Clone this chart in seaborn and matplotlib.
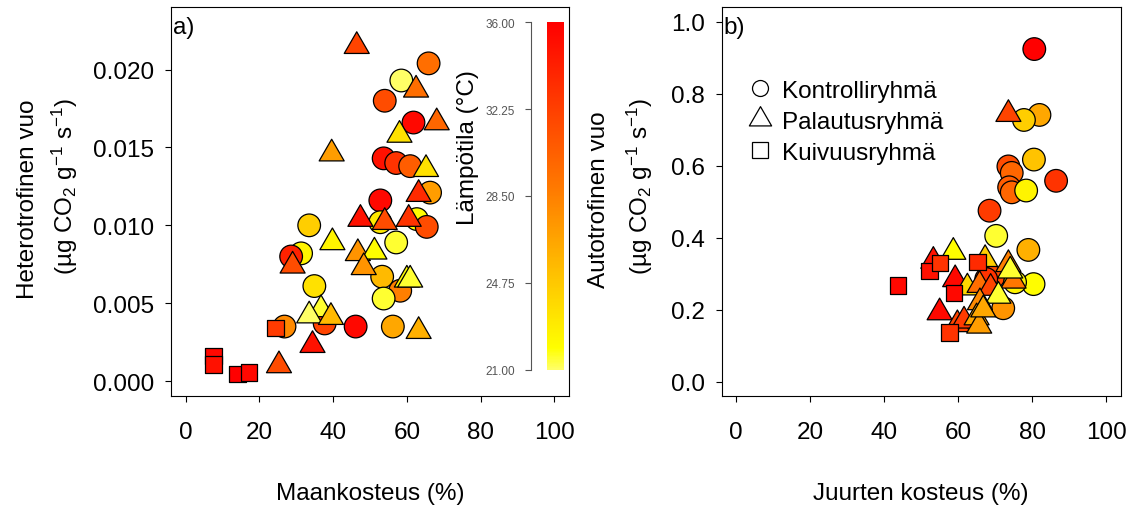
import matplotlib
matplotlib.use("Agg")
import matplotlib.pyplot as plt
import numpy as np
import pandas as pd
import seaborn as sns
from matplotlib.colors import LinearSegmentedColormap, Normalize
from matplotlib.cm import ScalarMappable
from matplotlib.lines import Line2D
from matplotlib.path import Path
from matplotlib.ticker import FormatStrFormatter, FixedLocator

# ---------------- data ----------------
GROUPS = ["Kontrolliryhmä", "Palautusryhmä", "Kuivuusryhmä"]

# panel a: soil moisture (%) vs heterotrophic flux, colour = temperature (°C)
a_ctrl_x = [65.9, 58.5, 54.0, 61.8, 53.7, 57.1, 60.9, 66.3, 52.8, 52.8, 62.7, 65.4,
            33.5, 57.1, 31.3, 28.6, 53.3, 58.2, 34.9, 53.7, 37.7, 26.8, 46.1, 56.2]
a_ctrl_y = [0.0204, 0.0193, 0.0180, 0.0166, 0.0143, 0.0140, 0.0138, 0.0121, 0.0116, 0.0102,
            0.0104, 0.0099, 0.0100, 0.0089, 0.0082, 0.0080, 0.0067, 0.0058, 0.0061, 0.0053,
            0.0037, 0.0035, 0.0035, 0.0035]
a_ctrl_t = [29.5, 21.0, 31.5, 35.5, 35.0, 33.0, 30.5, 27.0, 35.5, 23.0, 22.0, 31.5,
            24.5, 21.5, 22.5, 34.0, 25.5, 28.5, 23.5, 21.5, 32.0, 28.0, 35.5, 26.5]

a_pal_x = [46.4, 62.5, 68.1, 58.0, 39.6, 65.2, 63.2, 47.4, 54.0, 60.5, 39.8, 46.7,
           51.2, 29.0, 48.3, 60.0, 60.9, 36.7, 33.5, 39.4, 63.2, 34.4, 25.3]
a_pal_y = [0.0215, 0.0187, 0.0166, 0.0158, 0.0146, 0.0136, 0.0120, 0.0104, 0.0102, 0.0104,
           0.0089, 0.0082, 0.0083, 0.0074, 0.0073, 0.0065, 0.0065, 0.0046, 0.0042, 0.0041,
           0.0032, 0.0023, 0.0010]
a_pal_t = [32.0, 29.5, 30.0, 23.5, 27.0, 23.5, 33.5, 35.0, 31.5, 33.0, 22.5, 27.5,
           22.0, 31.5, 27.5, 22.0, 21.5, 21.5, 21.0, 25.5, 26.0, 35.0, 31.5]

a_kui_x = [7.6, 7.6, 14.0, 17.2, 24.3]
a_kui_y = [0.0016, 0.00105, 0.00045, 0.00056, 0.0034]
a_kui_t = [35.5, 35.0, 36.0, 35.5, 32.5]

# panel b: root moisture (%) vs autotrophic flux
b_ctrl_x = [80.6, 82.0, 77.8, 80.5, 73.6, 74.5, 86.5, 73.8, 74.5, 78.4, 68.5,
            70.3, 79.0, 80.4, 72.2, 69.5, 67.6, 75.4]
b_ctrl_y = [0.924, 0.741, 0.727, 0.617, 0.598, 0.580, 0.558, 0.540, 0.526, 0.531, 0.475,
            0.405, 0.366, 0.271, 0.204, 0.290, 0.285, 0.276]
b_ctrl_t = [36.0, 26.5, 24.5, 25.0, 31.5, 30.0, 33.0, 30.5, 30.0, 22.5, 32.5,
            21.5, 26.0, 22.0, 27.5, 31.5, 33.0, 22.5]

b_pal_x = [73.6, 58.7, 53.3, 67.3, 73.6, 75.0, 74.1, 59.2, 62.5, 65.8, 68.8, 70.9,
           65.9, 55.0, 59.8, 61.6, 65.0, 65.7, 66.8]
b_pal_y = [0.743, 0.360, 0.335, 0.340, 0.326, 0.280, 0.308, 0.284, 0.261, 0.268, 0.260,
           0.238, 0.220, 0.192, 0.159, 0.169, 0.178, 0.155, 0.200]
b_pal_t = [32.0, 22.0, 35.0, 24.5, 28.5, 29.0, 21.5, 35.5, 24.0, 29.5, 32.0, 21.5,
           28.0, 35.5, 32.0, 32.5, 26.5, 27.0, 26.5]

b_kui_x = [43.7, 52.3, 55.1, 58.9, 65.2, 57.6]
b_kui_y = [0.267, 0.308, 0.329, 0.246, 0.332, 0.137]
b_kui_t = [35.5, 35.0, 33.0, 35.5, 33.5, 33.0]

TEMP_TICKS = [21.00, 24.75, 28.50, 32.25, 36.00]
X_TICKS = [0, 20, 40, 60, 80, 100]
A_Y_TICKS = [0.000, 0.005, 0.010, 0.015, 0.020]
B_Y_TICKS = [0.0, 0.2, 0.4, 0.6, 0.8, 1.0]


def frame(xs, ys, ts):
    parts = []
    for g, x, y, t in zip(GROUPS, xs, ys, ts):
        parts.append(pd.DataFrame({"kosteus": x, "vuo": y, "lampotila": t, "ryhma": g}))
    return pd.concat(parts, ignore_index=True)


df_a = frame([a_ctrl_x, a_pal_x, a_kui_x], [a_ctrl_y, a_pal_y, a_kui_y],
             [a_ctrl_t, a_pal_t, a_kui_t])
df_b = frame([b_ctrl_x, b_pal_x, b_kui_x], [b_ctrl_y, b_pal_y, b_kui_y],
             [b_ctrl_t, b_pal_t, b_kui_t])

# ---------------- style ----------------
sns.set_theme(style="white")
plt.rcParams["font.family"] = ["Liberation Sans", "DejaVu Sans"]
plt.rcParams["mathtext.fontset"] = "custom"
plt.rcParams["mathtext.rm"] = "Liberation Sans"
plt.rcParams["mathtext.it"] = "Liberation Sans:italic"
plt.rcParams["mathtext.default"] = "regular"
for key in ("text.color", "axes.labelcolor", "xtick.color", "ytick.color", "axes.edgecolor"):
    plt.rcParams[key] = "black"
plt.rcParams["axes.linewidth"] = 0.8

FS = 17.5
W, H = 1137, 506

# closed equilateral triangle centred on its centroid
TRI = Path([(0.0, 1.0), (-0.866, -0.5), (0.866, -0.5), (0.0, 1.0)], closed=True)
marker_map = {"Kontrolliryhmä": "o", "Palautusryhmä": TRI, "Kuivuusryhmä": "s"}
size_map = {"Kontrolliryhmä": 16.3 ** 2, "Palautusryhmä": 20.8 ** 2, "Kuivuusryhmä": 11.9 ** 2}

cmap = LinearSegmentedColormap.from_list(
    "lampo", [(0.0, "#FFFF66"), (0.06, "#FFFF00"), (0.5, "#FF8000"), (1.0, "#FF0000")])
norm = Normalize(vmin=21, vmax=36)

fig = plt.figure(figsize=(W / 100, H / 100), dpi=100)
fig.patch.set_facecolor("white")


def px_axes(left, top, right, bottom):
    return fig.add_axes([left / W, 1 - bottom / H, (right - left) / W, (bottom - top) / H])


ax_a = px_axes(171, 8.3, 569, 396.7)
ax_b = px_axes(721.5, 8.3, 1120.8, 396.7)

for ax, df in ((ax_a, df_a), (ax_b, df_b)):
    sns.scatterplot(data=df, x="kosteus", y="vuo", hue="lampotila", hue_norm=norm,
                    palette=cmap, style="ryhma", markers=marker_map, size="ryhma",
                    sizes=size_map, edgecolor="black", linewidth=0.9, legend=False,
                    ax=ax, zorder=3)
    ax.set_xlim(-4, 104)
    ax.xaxis.set_major_locator(FixedLocator(X_TICKS))
    ax.tick_params(axis="both", direction="out", length=4.5, width=0.8, color="black",
                   labelsize=FS, labelcolor="black", bottom=True, left=True)
    ax.tick_params(axis="x", pad=13.5)
    ax.tick_params(axis="y", pad=7.7)
    for s in ax.spines.values():
        s.set_visible(True)
        s.set_color("black")
        s.set_linewidth(0.8)
    ax.set_ylabel("")

ax_a.set_ylim(-0.00094, 0.0240)
ax_a.yaxis.set_major_locator(FixedLocator(A_Y_TICKS))
ax_a.yaxis.set_major_formatter(FormatStrFormatter("%.3f"))
ax_b.set_ylim(-0.039, 1.04)
ax_b.yaxis.set_major_locator(FixedLocator(B_Y_TICKS))
ax_b.yaxis.set_major_formatter(FormatStrFormatter("%.1f"))

ax_a.set_xlabel("Maankosteus (%)", fontsize=FS, labelpad=28.5, color="black")
ax_b.set_xlabel("Juurten kosteus (%)", fontsize=FS, labelpad=28.5, color="black")

# panel tags
ax_a.text(0.004, 0.934, "a)", transform=ax_a.transAxes, fontsize=FS, ha="left", va="baseline")
ax_b.text(0.006, 0.934, "b)", transform=ax_b.transAxes, fontsize=FS, ha="left", va="baseline")

# two-line y labels
unit = "(µg CO$_2$ g$^{-1}$ s$^{-1}$)"


def ylab(x_px, y_px, s):
    fig.text(x_px / W, 1 - y_px / H, s, fontsize=FS, rotation=90, rotation_mode="anchor",
             ha="center", va="baseline", color="black")


ylab(34, 199, "Heterotrofinen vuo")
ylab(73, 186, unit)
ylab(605, 200, "Autotrofinen vuo")
ylab(648, 186, unit)

# colour key placed inside panel a
cax = px_axes(546.7, 23.3, 564, 370.7)
cb = fig.colorbar(ScalarMappable(norm=norm, cmap=cmap), cax=cax, ticks=[])
cb.outline.set_visible(False)

tax = px_axes(531, 23.3, 531.5, 370.7)
tax.set_ylim(21, 36)
tax.patch.set_visible(False)
for side in ("top", "right", "bottom"):
    tax.spines[side].set_visible(False)
tax.spines["left"].set_color("#555555")
tax.spines["left"].set_linewidth(0.8)
tax.set_xticks([])
tax.yaxis.set_major_locator(FixedLocator(TEMP_TICKS))
tax.yaxis.set_major_formatter(FormatStrFormatter("%.2f"))
tax.tick_params(axis="y", direction="out", length=4.3, width=0.8, color="#555555",
                labelsize=8.5, labelcolor="#555555", pad=7, left=True)
fig.text(468 / W, 1 - 148 / H, "Lämpötila (°C)", fontsize=FS, rotation=90,
         ha="center", va="center", color="black")

# group legend in panel b
handles = [
    Line2D([], [], linestyle="none", marker="o", markersize=11.5, markerfacecolor="white",
           markeredgecolor="black", markeredgewidth=0.9),
    Line2D([], [], linestyle="none", marker=TRI, markersize=18.5, markerfacecolor="white",
           markeredgecolor="black", markeredgewidth=0.9),
    Line2D([], [], linestyle="none", marker="s", markersize=11.5, markerfacecolor="white",
           markeredgecolor="black", markeredgewidth=0.9),
]
leg = ax_b.legend(handles, GROUPS, loc="upper left", bbox_to_anchor=(0.054, 0.813),
                  frameon=False, fontsize=FS, handlelength=1.4, handletextpad=0.22,
                  labelspacing=0.37, borderpad=0, borderaxespad=0)
for t in leg.get_texts():
    t.set_color("black")

fig.savefig("out.png", dpi=100, facecolor="white")
